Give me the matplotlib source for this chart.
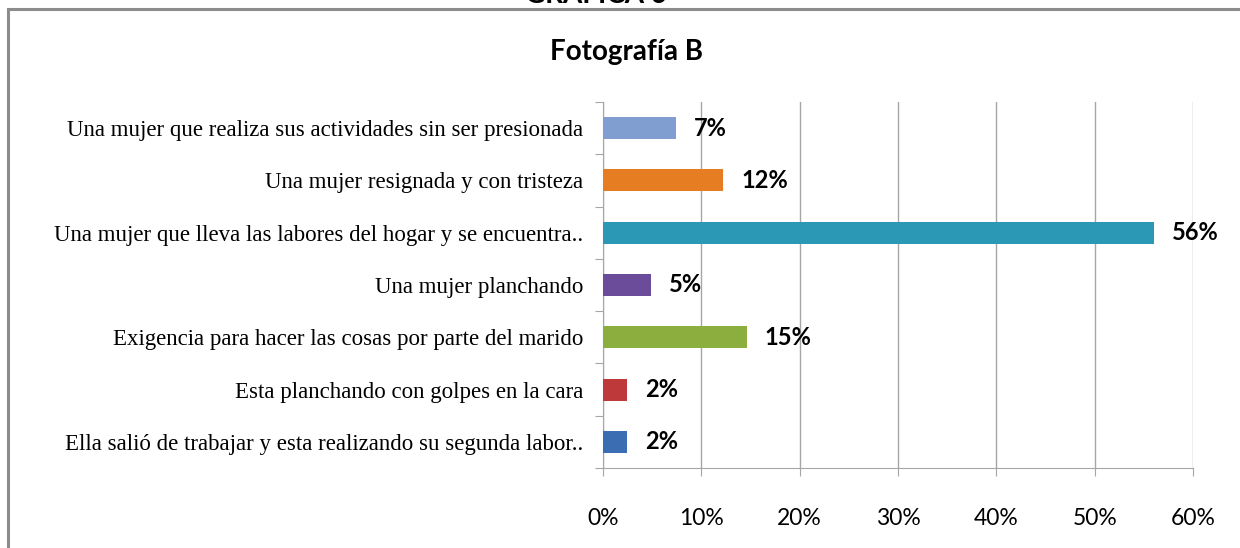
import matplotlib
matplotlib.use("Agg")
import matplotlib.pyplot as plt
from matplotlib.patches import Rectangle
import numpy as np

# categories as they appear from top to bottom
categories = [
    "Una mujer que realiza sus actividades sin ser presionada",
    "Una mujer resignada y con tristeza",
    "Una mujer que lleva las labores del hogar y se encuentra..",
    "Una mujer planchando",
    "Exigencia para hacer las cosas por parte del marido",
    "Esta planchando con golpes en la cara",
    "Ella salió de trabajar y esta realizando su segunda labor..",
]
values = [7.4, 12.2, 56.0, 4.9, 14.6, 2.4, 2.4]
value_labels = ["7%", "12%", "56%", "5%", "15%", "2%", "2%"]
bar_colors = ["#809ecf", "#e67d22", "#2b98b5", "#6b4c9a", "#8bae3e", "#be3a3a", "#3b6db3"]
x_ticks = [0, 10, 20, 30, 40, 50, 60]

W, H = 1240, 548
fig = plt.figure(figsize=(W / 100, H / 100), dpi=100)
ax = fig.add_axes([603 / W, 1 - 468 / H, (1193 - 603) / W, (468 - 102) / H])

y = np.arange(len(categories))
ax.barh(y, values, height=0.42, color=bar_colors, zorder=3)
ax.set_ylim(len(categories) - 0.5, -0.5)
ax.set_xlim(0, 60)

# outer chart frame (runs past the picture on right and bottom)
fig.patches.append(Rectangle((8 / W, -0.2), 1.2, 1.2 - 9 / H,
                             transform=fig.transFigure, fill=False,
                             edgecolor="#8c8c8c", linewidth=2.2))

# gridlines
ax.set_xticks(x_ticks)
ax.set_xticklabels([f"{t}%" for t in x_ticks], fontfamily="Lato", fontsize=16.5)
ax.grid(axis="x", color="#a6a6a6", linewidth=1, zorder=0)
ax.tick_params(axis="x", length=6, color="#a6a6a6", pad=23)

# y ticks sit between categories, labels on the categories
ax.set_yticks(np.arange(-0.5, len(categories)), minor=False)
ax.set_yticklabels([])
ax.set_yticks(y, minor=True)
ax.set_yticklabels(categories, minor=True, fontfamily="Liberation Serif", fontsize=16.5)
ax.tick_params(axis="y", which="major", length=6, color="#a6a6a6")
ax.tick_params(axis="y", which="minor", length=0, pad=14)

for s in ["top", "right"]:
    ax.spines[s].set_visible(False)
ax.spines["left"].set_color("#a6a6a6")
ax.spines["bottom"].set_color("#a6a6a6")

for yi, v, lab in zip(y, values, value_labels):
    ax.annotate(lab, (v, yi), xytext=(13, 0), textcoords="offset points",
                va="center", ha="left", fontfamily="Lato", fontweight="bold",
                fontsize=17, zorder=4)

fig.text(627 / W, 1 - 52 / H, "Fotografía B", ha="center", va="center",
         fontfamily="Lato", fontweight="bold", fontsize=20)
fig.text(596 / W, 1 + 5 / H, "GRAFICA 6", ha="center", va="center",
         fontfamily="Lato", fontweight="bold", fontsize=20)

fig.savefig("out.png", dpi=100)
